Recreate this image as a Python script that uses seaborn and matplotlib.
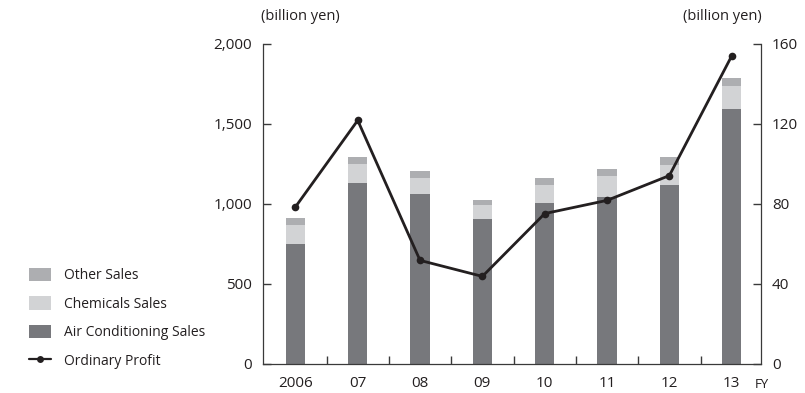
import matplotlib
matplotlib.use("Agg")
import matplotlib.pyplot as plt
from matplotlib.patches import Patch
from matplotlib.lines import Line2D
import numpy as np
import pandas as pd
import seaborn as sns

# Sales by segment (billion yen) and ordinary profit (billion yen), FY2006-FY2013
years = ["2006", "07", "08", "09", "10", "11", "12", "13"]
air_conditioning = [752, 1131, 1062, 906, 1006, 1046, 1119, 1594]
chemicals = [117, 119, 100, 88, 113, 129, 125, 141]
other = [44, 44, 44, 31, 44, 44, 50, 53]
ordinary_profit = [78.5, 121.8, 51.8, 43.8, 75.2, 81.8, 94.2, 154.0]

left_ticks = [0, 500, 1000, 1500, 2000]
left_labels = ["0", "500", "1,000", "1,500", "2,000"]
right_ticks = [0, 40, 80, 120, 160]

c_air = "#77787c"
c_chem = "#d2d3d5"
c_other = "#adaeb1"
c_line = "#231f20"
c_text = "#231f20"
c_axis = "#3a3a3a"

sns.set_theme(style="white")
plt.rcParams["font.family"] = ["Open Sans", "DejaVu Sans"]
plt.rcParams["text.color"] = c_text

df = pd.DataFrame({
    "year": years,
    "air": air_conditioning,
    "chem": chemicals,
    "other": other,
    "profit": ordinary_profit,
})
df["chem_base"] = df["air"]
df["other_base"] = df["air"] + df["chem"]

fig = plt.figure(figsize=(8.05, 3.93), dpi=100)
ax = fig.add_axes([0.3267, 0.0738, 0.6186, 0.8143])

bw = 0.31
sns.barplot(data=df, x="year", y="air", color=c_air, width=bw, ax=ax,
            saturation=1, linewidth=0, order=years)
sns.barplot(data=df, x="year", y="chem", bottom=df["chem_base"], color=c_chem,
            width=bw, ax=ax, saturation=1, linewidth=0, order=years)
sns.barplot(data=df, x="year", y="other", bottom=df["other_base"], color=c_other,
            width=bw, ax=ax, saturation=1, linewidth=0, order=years)

ax.set_ylim(0, 2000)
ax.set_yticks(left_ticks)
ax.set_yticklabels(left_labels)
ax.set_xlabel("")
ax.set_ylabel("")

ax2 = ax.twinx()
pos = np.arange(len(years))
sns.lineplot(x=pos, y=df["profit"], ax=ax2, color=c_line, linewidth=2.0,
             marker="o", markersize=5.5, markeredgewidth=0, sort=False)
ax2.set_ylim(0, 160)
ax2.set_yticks(right_ticks)
ax2.set_ylabel("")

ax.set_xlim(-0.52, 7.47)
ax2.set_xlim(-0.52, 7.47)

# x ticks: labels at bar centres, small marks between bars
ax.set_xticks(pos)
ax.set_xticklabels(years)
ax.set_xticks(pos[:-1] + 0.5, minor=True)
ax.tick_params(axis="x", which="major", length=0, pad=9, labelsize=11, colors=c_text)
ax.tick_params(axis="x", which="minor", direction="in", length=6, width=1.0,
               color=c_axis, bottom=True)
ax.tick_params(axis="y", which="major", direction="in", length=5.5, width=1.0, color=c_axis,
               pad=8, labelsize=11, labelcolor=c_text, left=True, right=False)
ax2.tick_params(axis="y", which="major", direction="in", length=5.5, width=1.0, color=c_axis,
                pad=8, labelsize=11, labelcolor=c_text, right=True, left=False)

for a in (ax, ax2):
    a.spines["top"].set_visible(False)
    for s in ("left", "right", "bottom"):
        a.spines[s].set_color(c_axis)
        a.spines[s].set_linewidth(0.9)
ax.spines["right"].set_visible(False)
ax2.spines["left"].set_visible(False)
ax2.spines["bottom"].set_visible(False)

fig.text(300 / 805, 1 - 17 / 393, "(billion yen)", ha="center", va="center", fontsize=10.5)
fig.text(722 / 805, 1 - 17 / 393, "(billion yen)", ha="center", va="center", fontsize=10.5)
fig.text(755 / 805, 1 - 384 / 393, "FY", ha="left", va="center", fontsize=9.5)

handles = [
    Patch(facecolor=c_other, edgecolor="none"),
    Patch(facecolor=c_chem, edgecolor="none"),
    Patch(facecolor=c_air, edgecolor="none"),
    Line2D([0], [0], color=c_line, linewidth=1.6, marker="o", markersize=5, markeredgewidth=0),
]
labels = ["Other Sales", "Chemicals Sales", "Air Conditioning Sales", "Ordinary Profit"]
fig.legend(handles, labels, loc="upper left", bbox_to_anchor=(23 / 805, 1 - 262 / 393),
           frameon=False, fontsize=10, handlelength=1.65, handleheight=1.15,
           handletextpad=0.9, labelspacing=0.93, borderaxespad=0)

fig.savefig("out.png", dpi=100)
